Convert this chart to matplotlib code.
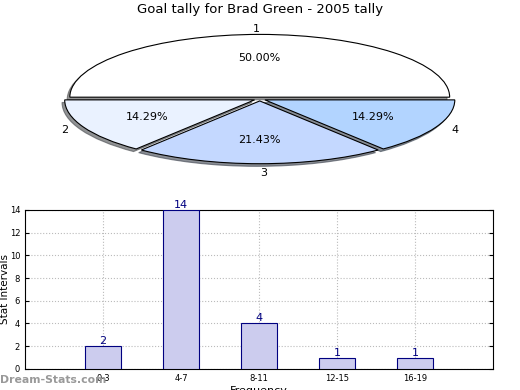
import numpy as np
import matplotlib
matplotlib.use('Agg')
import matplotlib.pyplot as plt

# pie data
pie_labels = ['1', '2', '3', '4']
pie_counts = [7, 2, 3, 2]
pie_colors = ['#ffffff', '#eaf2ff', '#c4d8ff', '#b2d4ff']

# bar data
intervals = ['0-3', '4-7', '8-11', '12-15', '16-19']
freq = [2, 14, 4, 1, 1]

fig = plt.figure(figsize=(5.2, 3.9), dpi=100)
fig.text(0.5, 0.975, 'Goal tally for Brad Green - 2005 tally', ha='center', va='center', fontsize=9.5)

# flattened pie
ax1 = fig.add_axes([0.116, 0.577, 0.767, 0.338])
wedges, texts, autotexts = ax1.pie(pie_counts, labels=pie_labels, colors=pie_colors,
                                   explode=[0.03, 0.03, 0.03, 0.03], startangle=0,
                                   autopct='%.2f%%', pctdistance=0.63, labeldistance=1.09,
                                   shadow=dict(ox=-0.01, oy=-0.03, alpha=0.6),
                                   wedgeprops=dict(edgecolor='black', linewidth=0.8),
                                   textprops=dict(fontsize=8))
texts[2].set_y(texts[2].get_position()[1] - 0.06)
ax1.set_aspect('auto')
ax1.set_xlim(-1.05, 1.05)
ax1.set_ylim(-1.05, 1.05)
ax1.axis('off')

# bar chart
ax2 = fig.add_axes([0.048, 0.054, 0.9, 0.408])
x = np.arange(1, len(intervals) + 1)
ax2.bar(x, freq, width=0.46, color='#ccccee', edgecolor='#000080', linewidth=0.8, zorder=3)
for xi, v in zip(x, freq):
    ax2.text(xi, v, str(v), ha='center', va='bottom', color='#000080', fontsize=8, zorder=4)
ax2.set_xlim(0, 6)
ax2.set_ylim(0, 14)
ax2.set_yticks(range(0, 15, 2))
ax2.set_xticks(x)
ax2.set_xticklabels(intervals)
ax2.tick_params(labelsize=6, direction='in', length=3, right=True, top=False)
ax2.grid(True, linestyle=':', color='#bbbbbb', linewidth=0.8, zorder=0)
ax2.set_ylabel('Stat Intervals', fontsize=7.5)
ax2.yaxis.set_label_coords(-0.032, 0.5)
ax2.set_xlabel('Frequency', fontsize=8, labelpad=2)

fig.text(0.0, 0.025, 'Dream-Stats.com', ha='left', va='center', fontsize=7.8,
         fontweight='bold', color='#999999')

fig.savefig('out.png', dpi=100)
